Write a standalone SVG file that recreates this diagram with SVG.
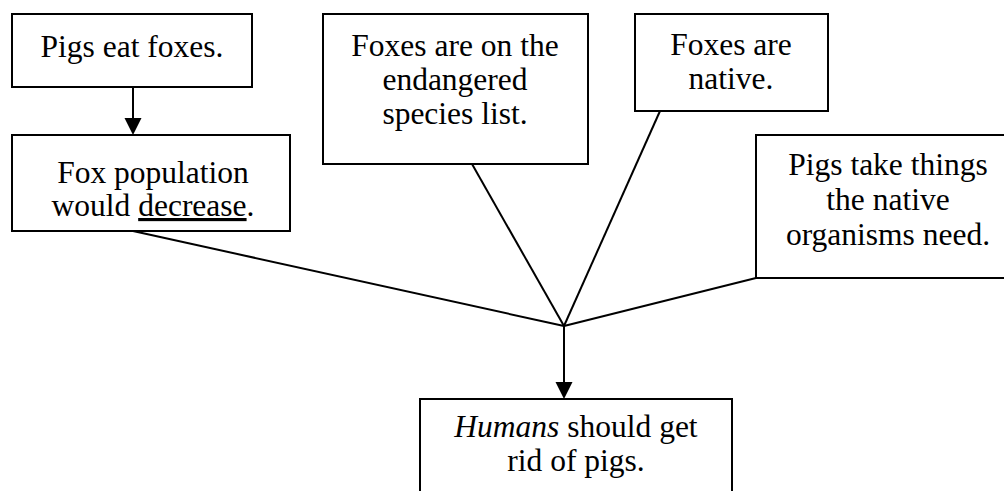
<svg xmlns="http://www.w3.org/2000/svg" width="1004" height="491" viewBox="0 0 1004 491">
  <style>
    .box { fill: #fff; stroke: #000; stroke-width: 2; }
    .lbl { font-size: 31.5px; fill: #000; text-anchor: middle; }
    .link { stroke: #000; stroke-width: 2; fill: none; }
  </style>

  <!-- connectors -->
  <g id="connectors">
    <line class="link" x1="133" y1="87" x2="133" y2="118"/>
    <path d="M124.5,118 L141.5,118 L133,135 Z" fill="#000"/>
    <line class="link" x1="133" y1="231" x2="564" y2="326"/>
    <line class="link" x1="472" y1="164" x2="564" y2="326"/>
    <line class="link" x1="660" y1="111" x2="564" y2="326"/>
    <line class="link" x1="756" y1="278" x2="564" y2="326"/>
    <line class="link" x1="564" y1="326" x2="564" y2="382"/>
    <path d="M555.5,382 L572.5,382 L564,399 Z" fill="#000"/>
  </g>

  <!-- nodes -->
  <g font-family="'Liberation Serif', Tinos, 'Times New Roman', 'DejaVu Serif', serif">
    <g id="node-pigs-eat-foxes">
      <rect class="box" x="12" y="14" width="240" height="73"/>
      <text class="lbl" x="132" y="57">Pigs eat foxes.</text>
    </g>

    <g id="node-fox-population">
      <rect class="box" x="12" y="135" width="278" height="96"/>
      <text class="lbl" x="153" y="183">Fox population</text>
      <text class="lbl" x="153" y="216">would <tspan text-decoration="underline">decrease</tspan>.</text>
    </g>

    <g id="node-endangered">
      <rect class="box" x="323" y="14" width="265" height="150"/>
      <text class="lbl" x="455" y="56">Foxes are on the</text>
      <text class="lbl" x="455" y="90">endangered</text>
      <text class="lbl" x="455" y="124">species list.</text>
    </g>

    <g id="node-native">
      <rect class="box" x="635" y="14" width="193" height="97"/>
      <text class="lbl" x="731" y="55">Foxes are</text>
      <text class="lbl" x="731" y="89">native.</text>
    </g>

    <g id="node-pigs-take">
      <rect class="box" x="756" y="135" width="260" height="143"/>
      <text class="lbl" x="888" y="175">Pigs take things</text>
      <text class="lbl" x="888" y="210">the native</text>
      <text class="lbl" x="888" y="245">organisms need.</text>
    </g>

    <g id="node-humans">
      <rect class="box" x="420" y="399" width="312" height="110"/>
      <text class="lbl" x="576" y="437"><tspan font-style="italic">Humans</tspan> should get</text>
      <text class="lbl" x="576" y="471">rid of pigs.</text>
    </g>
  </g>
</svg>
